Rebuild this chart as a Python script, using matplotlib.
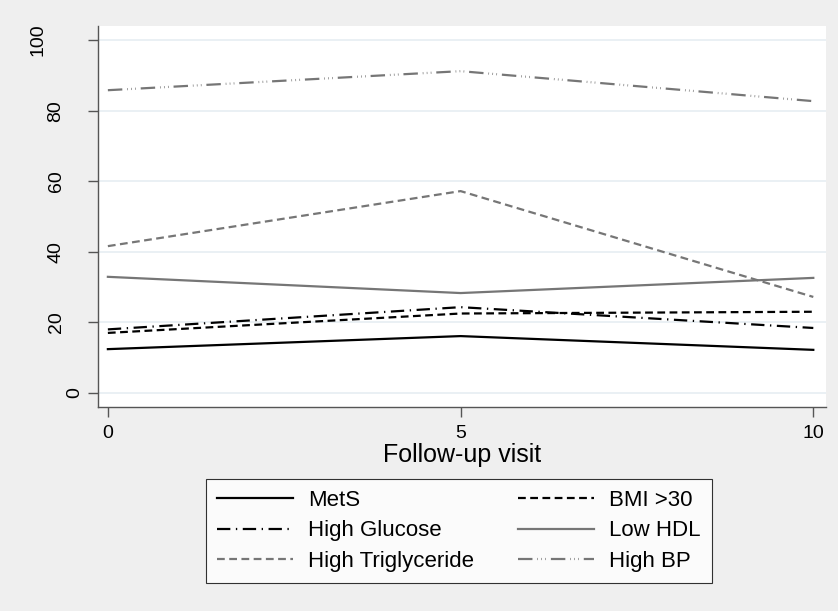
import matplotlib.pyplot as plt
import matplotlib.transforms as mtransforms

plt.rcParams['font.family'] = ['Liberation Sans', 'DejaVu Sans']

# follow-up visits
visits = [0, 5, 10]

# prevalence (%) of each component
mets = [12.4, 16.1, 12.2]
bmi30 = [17.0, 22.5, 23.0]
high_glucose = [18.0, 24.3, 18.4]
low_hdl = [32.9, 28.3, 32.6]
high_trig = [41.6, 57.2, 27.2]
high_bp = [85.8, 91.2, 82.7]

yticks = [0, 20, 40, 60, 80, 100]

bg = '#efefef'
grey = '#767676'

fig = plt.figure(figsize=(8.38, 6.11), dpi=100, facecolor=bg)
ax = fig.add_axes([98 / 838, 1 - 407 / 611, 728 / 838, 381 / 611])
ax.set_facecolor('white')

lw = 1.6
h1, = ax.plot(visits, mets, color='black', lw=lw, label='MetS')
h2, = ax.plot(visits, bmi30, color='black', lw=lw, dashes=(3.5, 2), label='BMI >30')
h3, = ax.plot(visits, high_glucose, color='black', lw=lw, dashes=(6, 2.5, 0.6, 2.5), label='High Glucose')
h4, = ax.plot(visits, low_hdl, color=grey, lw=lw, label='Low HDL')
h5, = ax.plot(visits, high_trig, color=grey, lw=lw, dashes=(3.5, 2), label='High Triglyceride')
h6, = ax.plot(visits, high_bp, color=grey, lw=lw,
              dashes=(6.5, 2.2, 0.3, 1.5, 0.3, 1.5, 0.3, 2.2), label='High BP')

ax.set_xlim(-0.14, 10.18)
ax.set_ylim(-4, 104)
ax.set_xticks([0, 5, 10])
ax.set_yticks(yticks)
ax.set_yticklabels([])
ax.grid(axis='y', color='#e6eef2', lw=1.2)
ax.set_axisbelow(True)

for s in ['top', 'right']:
    ax.spines[s].set_visible(False)
for s in ['left', 'bottom']:
    ax.spines[s].set_color('#555555')
    ax.spines[s].set_linewidth(1.0)

ax.tick_params(labelsize=14, color='#555555', length=7, width=1.0, pad=6)

# rotated y labels, shifted left by label length (Stata style)
trans = mtransforms.blended_transform_factory(fig.transFigure, ax.transData)
for v in yticks:
    s = str(v)
    ax.text((93 - 18.5 * len(s)) / 838, v, s, transform=trans, rotation=90,
            ha='center', va='center', fontsize=14)

ax.set_xlabel('Follow-up visit', fontsize=18, labelpad=1)

# row-wise order like the original: matplotlib fills columns first
handles = [h1, h3, h5, h2, h4, h6]
leg = fig.legend(handles, [h.get_label() for h in handles],
                 loc='upper left', bbox_to_anchor=(206 / 838, 1 - 479 / 611),
                 ncol=2, fontsize=16, frameon=True, fancybox=False,
                 edgecolor='black', handlelength=3.4, handletextpad=0.68,
                 borderaxespad=0, columnspacing=2.0, labelspacing=0.42, borderpad=0.5)
leg.get_frame().set_linewidth(0.8)

fig.savefig('out.png', dpi=100, facecolor=bg)
